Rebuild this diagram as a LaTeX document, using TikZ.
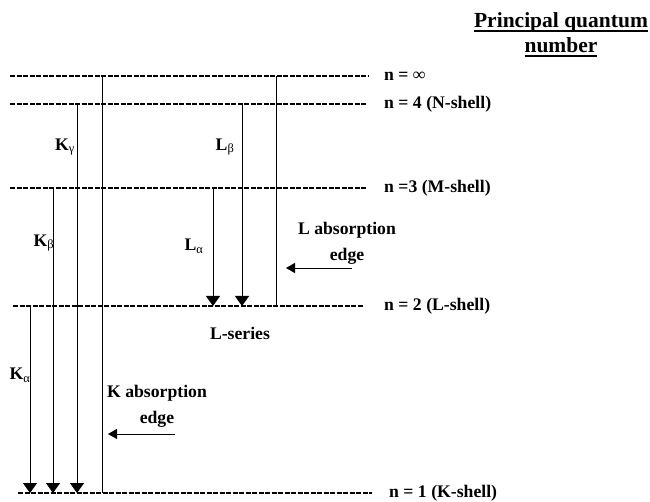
\documentclass[tikz,border=0pt]{standalone}
\usepackage{fontspec}
\setmainfont{Liberation Serif}
\usetikzlibrary{arrows.meta}
\newcommand{\thickul}[1]{\setbox0\hbox{#1}\rlap{\rule[-4pt]{\wd0}{1.6pt}}\box0}
\tikzset{
  lvl/.style={draw, line width=1.3pt, dash pattern=on 5pt off 1.5pt},
  tr/.style={draw, line width=0.9pt, -{Triangle[width=14pt,length=10pt]}},
  edgeln/.style={draw, line width=0.9pt},
  push/.style={draw, line width=0.9pt, -{Triangle[width=10pt,length=9pt]}},
  lab/.style={font=\fontsize{17.7}{26}\selectfont\bfseries, inner sep=1pt, align=center},
  nlab/.style={lab, anchor=west},
  hd/.style={font=\fontsize{21.5}{25}\selectfont\bfseries, inner sep=1pt, align=center}
}

\begin{document}
\begin{tikzpicture}[x=1pt, y=-1pt]
\useasboundingbox (0,0) rectangle (650,502);
% shells
\coordinate (Linf) at (10,76);  \coordinate (Rinf) at (368,76);
\coordinate (L4) at (10,104);   \coordinate (R4) at (367,104);
\coordinate (L3) at (10,188);   \coordinate (R3) at (366,188);
\coordinate (L2) at (13,306);   \coordinate (R2) at (363,306);
\coordinate (L1) at (18,493);   \coordinate (R1) at (372,493);
\draw[lvl] (Linf) -- (Rinf);
\draw[lvl] (L4) -- (R4);
\draw[lvl] (L3) -- (R3);
\draw[lvl] (L2) -- (R2);
\draw[lvl] (L1) -- (R1);
\node[hd] (head) at (561,35) {\thickul{Principal quantum}\\\thickul{number}};
\node[nlab] (tinf) at (383,76) {n = ∞};
\node[nlab] (t4) at (383,104) {n = 4 (N-shell)};
\node[nlab] (t3) at (383,188) {n =3 (M-shell)};
\node[nlab] (t2) at (383,306) {n = 2 (L-shell)};
\node[nlab] (t1) at (388,493) {n = 1 (K-shell)};
% columns
\coordinate (ka) at (30,0);  \coordinate (kb) at (53,0);
\coordinate (kg) at (77,0);  \coordinate (ke) at (102,0);
\coordinate (la) at (213,0); \coordinate (lb) at (242,0);
\coordinate (le) at (276,0);
% K series
\draw[tr] (ka |- L2) -- (ka |- L1);
\draw[tr] (kb |- L3) -- (kb |- L1);
\draw[tr] (kg |- L4) -- (kg |- L1);
\draw[edgeln] (ke |- Linf) -- (ke |- L1);
% L series
\draw[tr] (la |- L3) -- (la |- L2);
\draw[tr] (lb |- L4) -- (lb |- L2);
\draw[edgeln] (le |- Linf) -- (le |- L2);
\node[lab] (kalpha) at (20,375) {K\textsubscript{\mdseries α}};
\node[lab] (kbeta) at (44,243) {K\textsubscript{\mdseries β}};
\node[lab] (kgamma) at (65,147) {K\textsubscript{\mdseries γ}};
\node[lab] (lalpha) at (194,246) {L\textsubscript{\mdseries α}};
\node[lab] (lbeta) at (225,147) {L\textsubscript{\mdseries β}};
\node[lab] (lser) at (240,333) {L-series};
% absorption edges
\node[lab] (ledge) at (347,243) {L absorption\\edge};
\node[lab] (kedge) at (157,406) {K absorption\\edge};
\coordinate (la1) at (352,268); \coordinate (la2) at (286,268);
\coordinate (ka1) at (175,434); \coordinate (ka2) at (108,434);
\draw[push] (la1) -- (la2);
\draw[push] (ka1) -- (ka2);
\end{tikzpicture}
\end{document}
